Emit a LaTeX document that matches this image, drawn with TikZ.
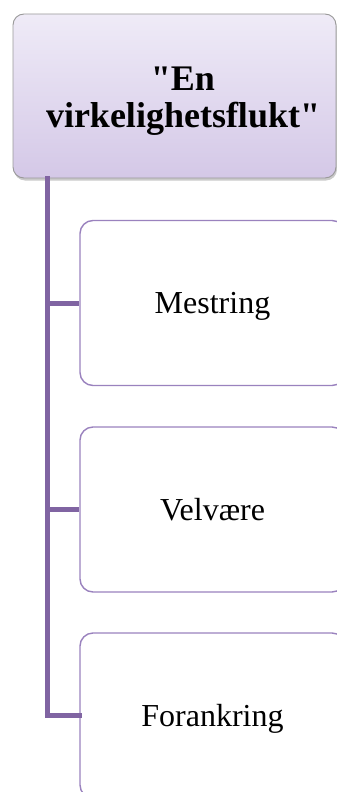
\documentclass[tikz,border=0pt]{standalone}
\usepackage{fontspec}
\setmainfont{Liberation Serif}[Ligatures=TeXOff]
\definecolor{linepurple}{HTML}{8064A2}
\definecolor{boxpurple}{HTML}{9A82BE}
\definecolor{gradtop}{HTML}{EFEBF7}
\definecolor{gradbot}{HTML}{D4C8E7}
\tikzset{
  topbox/.style={rounded corners=11pt, minimum width=323pt, minimum height=164pt,
    top color=gradtop, bottom color=gradbot, draw=gray!80, line width=0.9pt, inner sep=0pt},
  shadowbox/.style={rounded corners=11pt, minimum width=323pt, minimum height=164pt,
    fill=gray!70, opacity=0.6, inner sep=0pt},
  titletext/.style={align=center, font=\fontsize{36}{37}\selectfont\bfseries, inner sep=0pt},
  childbox/.style={rounded corners=13pt, minimum width=265pt, minimum height=165pt,
    draw=boxpurple, line width=1.4pt, fill=white, inner sep=0pt,
    font=\fontsize{32}{38}\selectfont, text height=27pt, text depth=6pt},
  conn/.style={draw=linepurple, line width=5pt}
}
\begin{document}
\begin{tikzpicture}[x=1pt,y=-1pt]
\useasboundingbox (0,0) rectangle (337,792);
\clip (0,0) rectangle (337,792);
\node[shadowbox] (shadow) at (175.5,98.5) {};
\node[topbox] (top) at (174.5,96) {};
\node[titletext] (toptext) at (183,101) {"En\\virkelighetsflukt"};
\coordinate (trunk) at (47,178);
\coordinate (bend) at (47,715.5);
\node[childbox] (c1) at (212.5,303) {Mestring};
\node[childbox] (c2) at (212.5,509.5) {Velvære};
\node[childbox] (c3) at (212.5,715.5) {Forankring};
\coordinate (j1) at (47,303);
\coordinate (j2) at (47,509.5);
\draw[conn, line cap=rect] (trunk) -- (bend) -- (c3.west);
\draw[conn] (j1) -- (c1.west);
\draw[conn] (j2) -- (c2.west);
\end{tikzpicture}
\end{document}
